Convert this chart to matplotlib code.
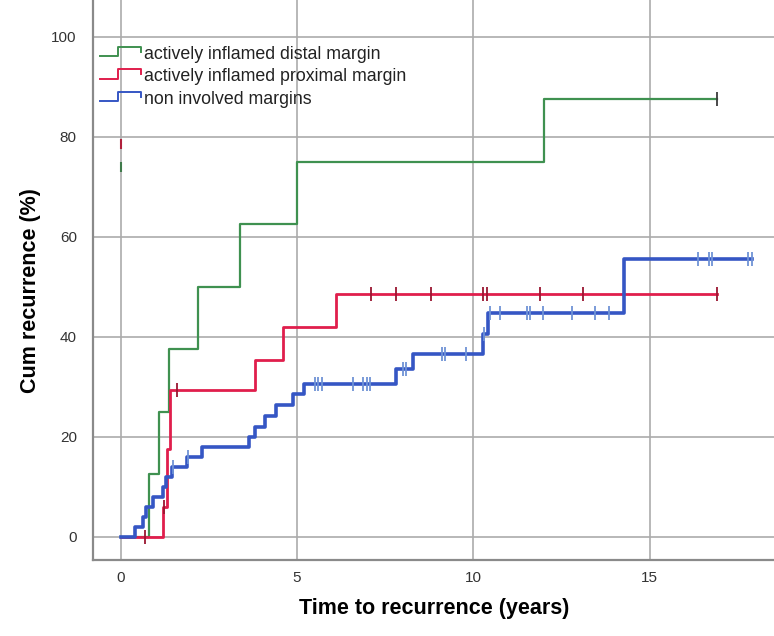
import matplotlib
matplotlib.use("Agg")
import matplotlib.pyplot as plt
from matplotlib.lines import Line2D
from matplotlib.legend_handler import HandlerBase

plt.rcParams['font.family'] = ['Liberation Sans', 'DejaVu Sans']

# ---- data (time in years, cumulative recurrence in %) ----
distal_times = [0, 0.80, 1.09, 1.38, 2.20, 3.39, 5.00, 12.00, 16.92]
distal_vals = [0, 12.5, 25.0, 37.5, 50.0, 62.5, 75.0, 87.5, 87.5]
distal_cens_t = [16.92]
distal_cens_v = [87.5]

prox_times = [0, 1.20, 1.31, 1.40, 3.81, 4.60, 6.11, 16.92]
prox_vals = [0, 5.9, 17.6, 29.4, 35.3, 41.9, 48.6, 48.6]
prox_cens_t = [0.69, 1.22, 1.60, 7.10, 7.80, 8.81, 10.29, 10.39, 11.90, 13.10, 16.92]
prox_cens_v = [0, 5.9, 29.4, 48.6, 48.6, 48.6, 48.6, 48.6, 48.6, 48.6, 48.6]

non_times = [0, 0.41, 0.64, 0.71, 0.93, 1.21, 1.28, 1.45, 1.89, 2.31, 3.63, 3.81,
             4.10, 4.41, 4.90, 5.20, 7.80, 8.30, 10.29, 10.42, 14.28, 17.90]
non_vals = [0, 2, 4, 6, 8, 10, 12, 14, 16, 18, 20, 22,
            24.2, 26.4, 28.5, 30.6, 33.6, 36.6, 40.5, 44.7, 55.6, 55.6]
non_cens_t = [1.50, 1.92, 5.52, 5.60, 5.70, 6.58, 6.88, 6.99, 7.08, 8.00, 8.09,
              9.11, 9.20, 9.80, 10.30, 10.48, 10.76, 11.52, 11.60, 11.98, 12.79,
              13.45, 13.86, 16.37, 16.68, 16.76, 17.80, 17.90]
non_cens_v = [14, 16, 30.6, 30.6, 30.6, 30.6, 30.6, 30.6, 30.6, 33.6, 33.6,
              36.6, 36.6, 36.6, 40.5, 44.7, 44.7, 44.7, 44.7, 44.7, 44.7,
              44.7, 44.7, 55.6, 55.6, 55.6, 55.6, 55.6]

# censored-symbol fragments visible at t=0 (cut-off SPSS legend entries)
frag_t = [0, 0]
frag_v = [78.5, 74.0]
frag_colors = ['#b0203c', '#3f7a4a']

labels = ['actively inflamed distal margin', 'actively inflamed proximal margin',
          'non involved margins']
x_ticks = [0, 5, 10, 15]
y_ticks = [0, 20, 40, 60, 80, 100]

GREEN = '#3f9150'
RED = '#e01e4c'
BLUE = '#3556c4'

fig = plt.figure(figsize=(7.74, 6.36), dpi=100)
ax = fig.add_axes([0.1208, 0.1195, 0.8792, 0.8805])
ax.set_xlim(-0.766, 18.53)
ax.set_ylim(-4.63, 107.3)

ax.set_xticks(x_ticks)
ax.set_yticks(y_ticks)
ax.grid(True, color='#ababab', lw=1.2)
ax.set_axisbelow(True)
ax.tick_params(length=0, labelsize=11, labelcolor='#333333', pad=8)
ax.tick_params(axis='y', pad=12)
for s in ['top', 'right']:
    ax.spines[s].set_visible(False)
for s in ['left', 'bottom']:
    ax.spines[s].set_color('#8a8a8a')
    ax.spines[s].set_linewidth(1.6)

ax.step(distal_times, distal_vals, where='post', color=GREEN, lw=1.6, zorder=3)
ax.step(prox_times, prox_vals, where='post', color=RED, lw=2.0, zorder=4)
ax.step(non_times, non_vals, where='post', color=BLUE, lw=2.6, zorder=5)

ax.plot(distal_cens_t, distal_cens_v, ls='none', marker='|', ms=10, mew=1.3,
        color='#3a3a3a', zorder=6)
ax.plot(prox_cens_t, prox_cens_v, ls='none', marker='|', ms=10, mew=1.3,
        color='#9a1630', zorder=6)
ax.plot(non_cens_t, non_cens_v, ls='none', marker='|', ms=10, mew=1.3,
        color='#6f93d6', zorder=6)
for t, v, c in zip(frag_t, frag_v, frag_colors):
    ax.plot([t], [v], ls='none', marker='|', ms=7, mew=1.5, color=c, zorder=6)

ax.set_xlabel('Time to recurrence (years)', fontsize=15.5, fontweight='bold', labelpad=9)
ax.set_ylabel('Cum recurrence (%)', fontsize=15.5, fontweight='bold')
ax.yaxis.set_label_coords(-0.077, 0.482)


class StepHandler(HandlerBase):
    def create_artists(self, legend, orig_handle, xdescent, ydescent, width,
                       height, fontsize, trans):
        x0 = -xdescent
        xs = [x0, x0 + 0.45 * width, x0 + 0.45 * width, x0 + width, x0 + width]
        ys = [0.2 * height, 0.2 * height, 0.95 * height, 0.95 * height, 0.55 * height]
        ln = Line2D(xs, ys, color=orig_handle.get_color(), lw=1.4)
        ln.set_transform(trans)
        return [ln]


handles = [Line2D([], [], color=c) for c in (GREEN, RED, BLUE)]
leg = ax.legend(handles, labels, loc='upper left', bbox_to_anchor=(0.0096, 0.918),
                frameon=False, fontsize=12.8, handlelength=2.3, handletextpad=0.15,
                borderpad=0, borderaxespad=0, labelspacing=0.3,
                handler_map={Line2D: StepHandler()})
for t in leg.get_texts():
    t.set_color('#222222')

fig.savefig('out.png', dpi=100)
